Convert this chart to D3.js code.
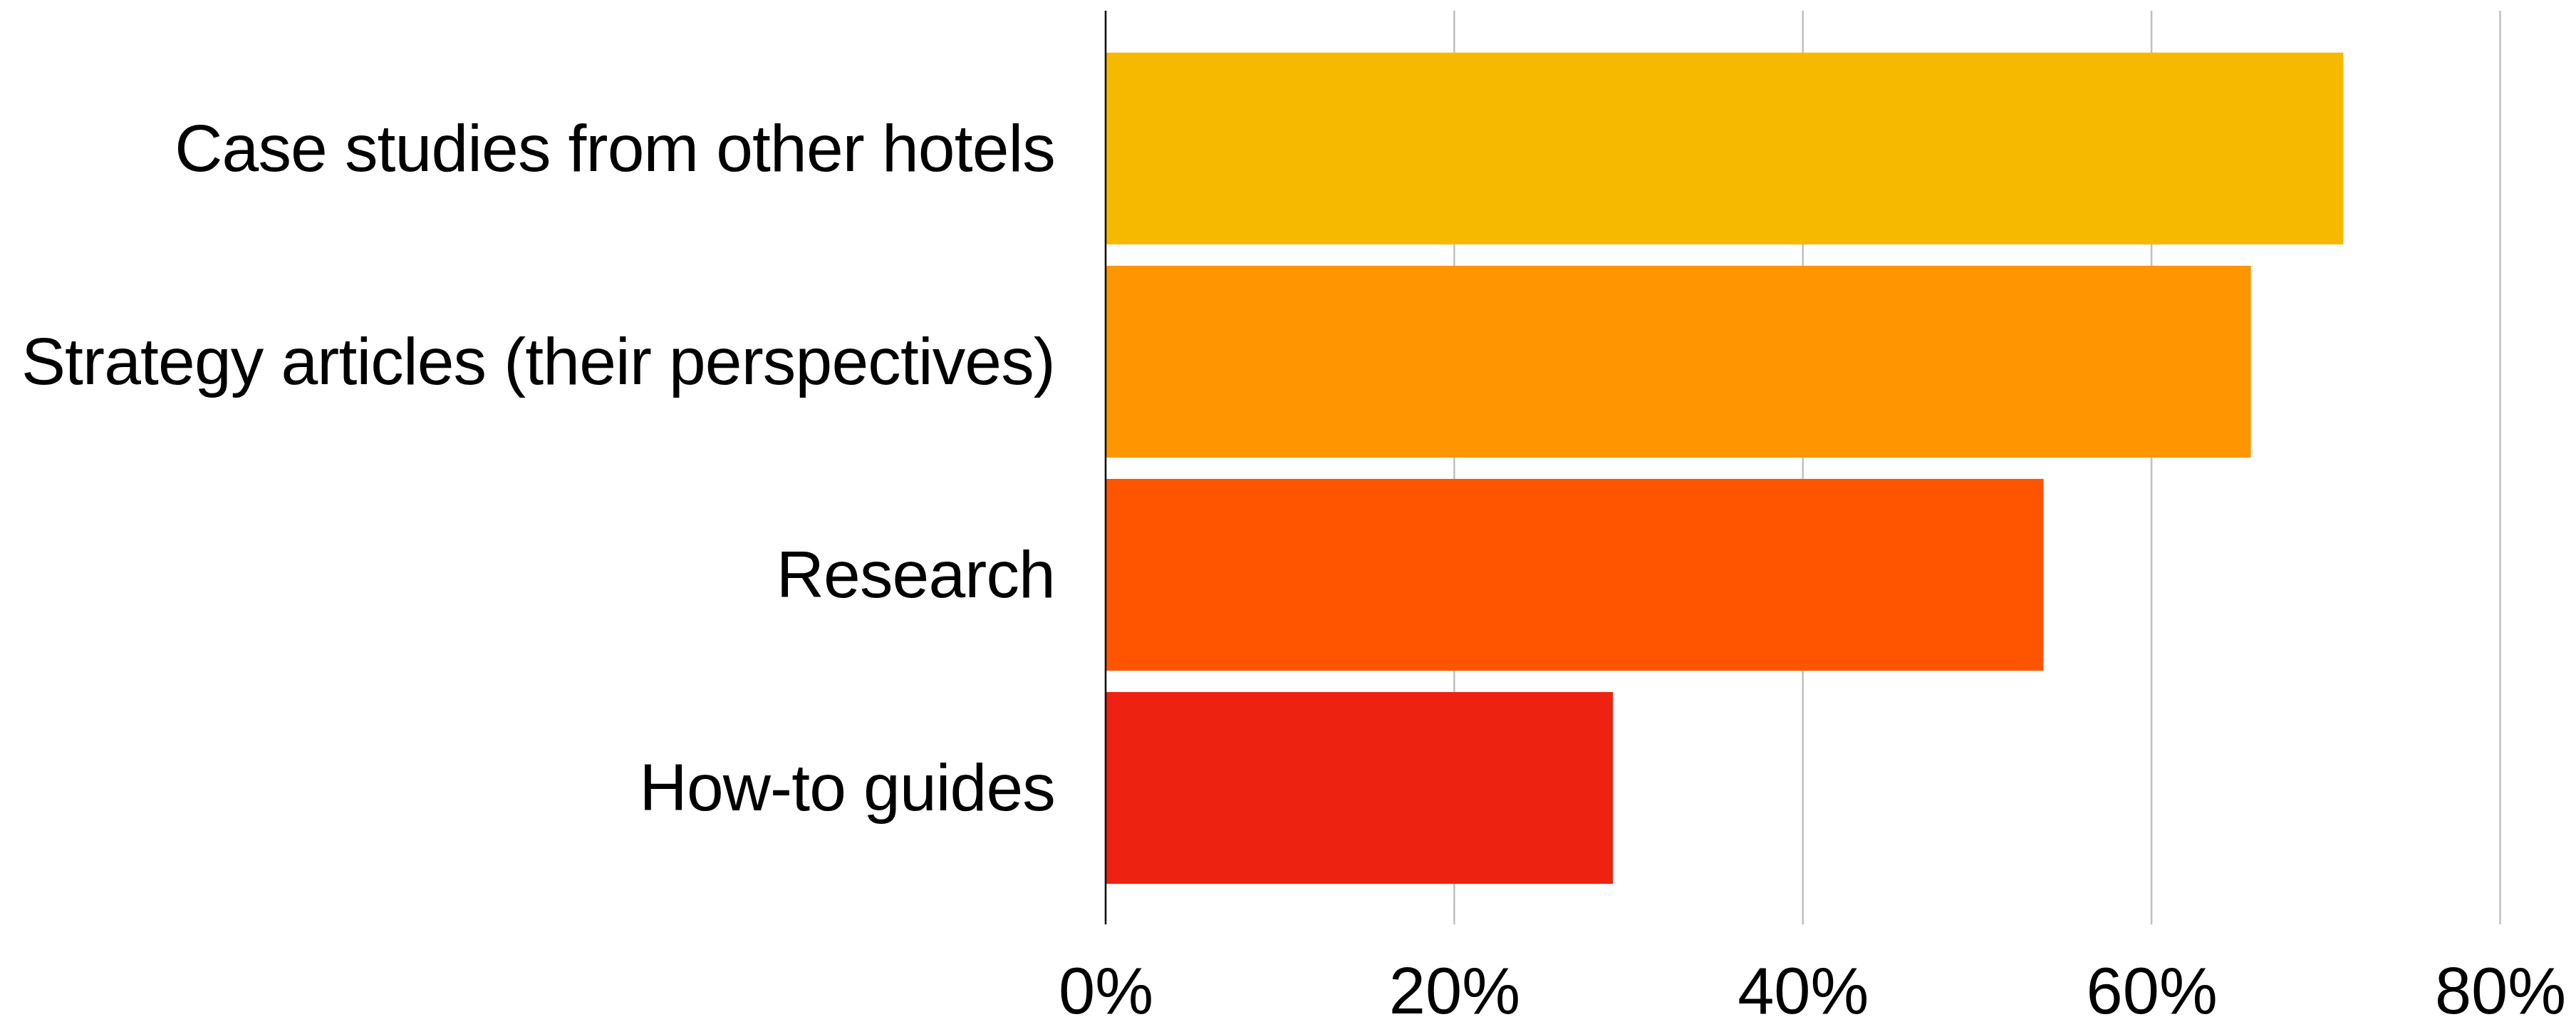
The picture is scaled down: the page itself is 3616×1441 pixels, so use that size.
<!DOCTYPE html>
<html>
<head>
<meta charset="utf-8">
<script src="https://cdn.jsdelivr.net/npm/d3@7"></script>
<style>
  html, body { margin: 0; padding: 0; background: #ffffff; }
  svg { display: block; }
  text { font-family: "Liberation Sans", Arial, Helvetica, sans-serif; fill: #000; }
</style>
</head>
<body>
<script>
// Content preferences, share of respondents (%)
const categories = [
  "Case studies from other hotels",
  "Strategy articles (their perspectives)",
  "Research",
  "How-to guides"
];
const values = [71.0, 65.7, 53.8, 29.1];
const barColors = ["#F6B900", "#FF9500", "#FF5500", "#EE2210"];
const tickValues = [0, 20, 40, 60, 80];
const tickLabels = ["0%", "20%", "40%", "60%", "80%"];

const W = 3616, H = 1441;
const plot = { left: 1552, right: 3509.5, top: 15, bottom: 1297 };

const svg = d3.select("body").append("svg")
  .attr("width", W).attr("height", H);

const x = d3.scaleLinear().domain([0, 80]).range([plot.left, plot.right]);
const y = d3.scaleBand().domain(categories)
  .range([plot.top + 2, plot.bottom])
  .paddingInner(0.1).paddingOuter(0.19);

// vertical gridlines
svg.append("g").selectAll("line")
  .data(tickValues.filter(v => v > 0))
  .join("line")
  .attr("x1", d => x(d)).attr("x2", d => x(d))
  .attr("y1", plot.top).attr("y2", plot.bottom)
  .attr("stroke", "#c0c0c0").attr("stroke-width", 2.5);

// bars
svg.append("g").selectAll("rect")
  .data(categories)
  .join("rect")
  .attr("x", x(0))
  .attr("y", d => y(d))
  .attr("width", (d, i) => x(values[i]) - x(0))
  .attr("height", y.bandwidth())
  .attr("fill", (d, i) => barColors[i]);

// value axis at the bottom (labels only)
const xAxis = d3.axisBottom(x)
  .tickValues(tickValues)
  .tickFormat((d, i) => tickLabels[i])
  .tickSize(0);
const gx = svg.append("g").attr("transform", `translate(0,${plot.bottom})`).call(xAxis);
gx.select(".domain").remove();
gx.selectAll("text")
  .attr("y", 125).attr("dy", 0)
  .attr("font-size", 92)
  .attr("font-family", "Liberation Sans, Arial, sans-serif")
  .attr("fill", "#000");

// category axis labels
const yAxis = d3.axisLeft(y).tickSize(0).tickPadding(71);
const gy = svg.append("g").attr("transform", `translate(${plot.left},0)`).call(yAxis);
gy.select(".domain").remove();
gy.selectAll("text")
  .attr("dy", "0.34em")
  .attr("font-size", 93)
  .attr("letter-spacing", "-0.85px")
  .attr("font-family", "Liberation Sans, Arial, sans-serif")
  .attr("fill", "#000");

// baseline axis line at zero
svg.append("line")
  .attr("x1", x(0)).attr("x2", x(0))
  .attr("y1", plot.top).attr("y2", plot.bottom)
  .attr("stroke", "#111").attr("stroke-width", 2.6);
</script>
</body>
</html>
